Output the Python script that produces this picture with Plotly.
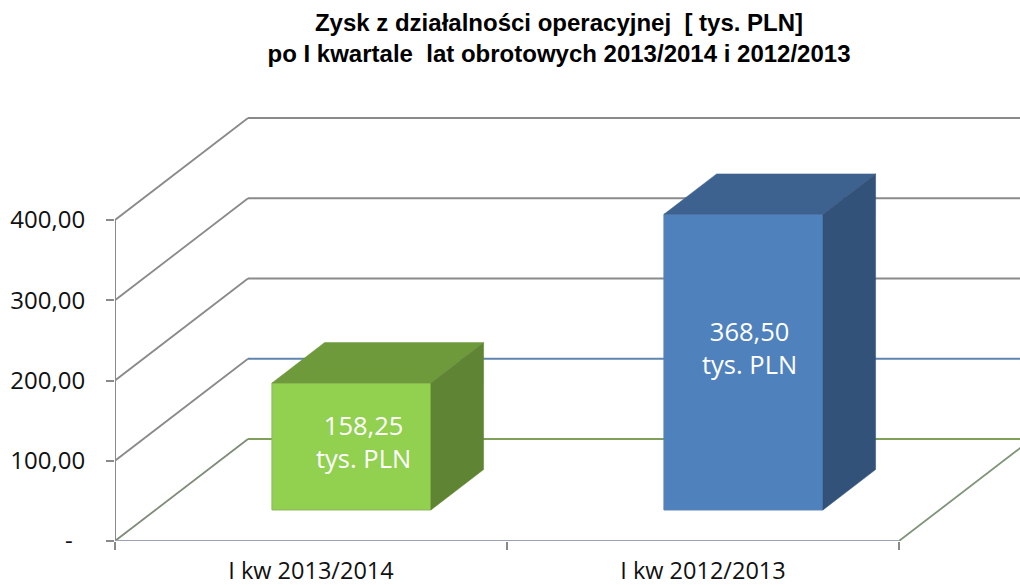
import plotly.graph_objects as go

# --- data ---
categories = ["I kw 2013/2014", "I kw 2012/2013"]
values = [158.25, 368.50]
value_labels = ["158,25<br>tys. PLN", "368,50<br>tys. PLN"]
y_ticks = [0, 100, 200, 300, 400]
y_tick_labels = ["-\u00a0\u00a0", "100,00", "200,00", "300,00", "400,00"]
title_text = "<b>Zysk z działalności operacyjnej  [ tys. PLN]<br>po I kwartale  lat obrotowych 2013/2014 i 2012/2013</b>"

# --- styles ---
front_colors = ["#92D050", "#4F81BD"]
top_colors = ["#6F9A3C", "#3D628F"]
side_colors = ["#5F8433", "#325279"]
edge_colors = ["#8DB85A", "#5B84B8"]
back_wall_colors = {0: "#7F9F5A", 100: "#5F84B0"}
label_shift = [(12, 5), (6, 15)]
TICK_FONT = "Open Sans"
GRID = "#8A8A8A"

# --- pseudo 3D geometry (page size and axis scale) ---
W, H = 1020, 585
L, BOTTOM_PX = 115, 541
CAT_PX = 392.0
VAL_PX = 0.8025
WALL_DX = 133 / CAT_PX          # depth of the floor in x-axis units
WALL_DY = 102 / VAL_PX          # depth of the floor in y-axis units
BAR_D0, BAR_D1 = 0.304, 0.70    # front and back of the bars as share of the depth
BAR_W = 159 / CAT_PX
X_MAX = (W - L) / CAT_PX
Y_MAX = BOTTOM_PX / VAL_PX


def project(x, v, d):
    return x + WALL_DX * d, v + WALL_DY * d


centers = [i + 0.5 for i in range(len(categories))]
fig = go.Figure()

# Front faces are real bars
fx = [project(c, 0, BAR_D0)[0] for c in centers]
base = project(0, 0, BAR_D0)[1]
fig.add_trace(go.Bar(
    x=fx, y=values, base=[base] * len(values), width=BAR_W,
    marker=dict(color=front_colors, line=dict(color=edge_colors, width=1)),
    hoverinfo="skip", showlegend=False,
))

# Top and side faces follow from each value
for c, v, tc, sc in zip(centers, values, top_colors, side_colors):
    x0, x1 = c - BAR_W / 2, c + BAR_W / 2
    p = [project(x0, v, BAR_D0), project(x1, v, BAR_D0), project(x1, v, BAR_D1), project(x0, v, BAR_D1)]
    fig.add_trace(go.Scatter(
        x=[q[0] for q in p] + [p[0][0]], y=[q[1] for q in p] + [p[0][1]],
        mode="lines", fill="toself", fillcolor=tc, line=dict(color=tc, width=0.5),
        hoverinfo="skip", showlegend=False,
    ))
    s = [project(x1, 0, BAR_D0), project(x1, v, BAR_D0), project(x1, v, BAR_D1), project(x1, 0, BAR_D1)]
    fig.add_trace(go.Scatter(
        x=[q[0] for q in s] + [s[0][0]], y=[q[1] for q in s] + [s[0][1]],
        mode="lines", fill="toself", fillcolor=sc, line=dict(color=sc, width=0.5),
        hoverinfo="skip", showlegend=False,
    ))

# Axis lines
fig.add_trace(go.Scatter(
    x=[0, 0], y=[y_ticks[0], y_ticks[-1]], mode="lines", cliponaxis=False,
    line=dict(color=GRID, width=2), hoverinfo="skip", showlegend=False,
))
fig.add_trace(go.Scatter(
    x=[0, len(categories)], y=[0, 0], mode="lines", cliponaxis=False,
    line=dict(color="#9AA3B5", width=2), hoverinfo="skip", showlegend=False,
))

# Walls of the box: below the bars
shapes = []
for t in y_ticks:
    bx, by = project(0, t, 1)
    shapes.append(dict(type="line", layer="below", xref="x", yref="y", x0=0, y0=t, x1=bx, y1=by,
                       line=dict(color="#7F8C7A" if t == 0 else GRID, width=1.8)))
    shapes.append(dict(type="line", layer="below", xref="x", yref="y", x0=bx, y0=by, x1=X_MAX, y1=by,
                       line=dict(color=back_wall_colors.get(t, GRID), width=2)))
rx, ry = project(len(categories), 0, 1)
shapes.append(dict(type="line", layer="below", xref="x", yref="y", x0=len(categories), y0=0, x1=rx, y1=ry,
                   line=dict(color="#7F9478", width=1.8)))

annotations = []
for x, v, txt, (dx, dy) in zip(fx, values, value_labels, label_shift):
    annotations.append(dict(
        x=x, y=base + v / 2, xref="x", yref="y", text=txt, showarrow=False,
        xshift=dx, yshift=dy, font=dict(family=TICK_FONT, size=25.5, color="white"),
    ))

fig.update_layout(
    width=W, height=H, autosize=False,
    margin=dict(l=L, r=0, t=0, b=H - BOTTOM_PX, pad=0),
    paper_bgcolor="white", plot_bgcolor="white",
    showlegend=False, shapes=shapes, annotations=annotations,
    title=dict(text=title_text, x=559 / W, xanchor="center", y=1 - 31 / H, yanchor="top",
               automargin=False,
               font=dict(family="Liberation Sans", size=24, color="black")),
    xaxis=dict(
        range=[0, X_MAX], showgrid=False, zeroline=False, showline=False, automargin=False,
        tickmode="array", tickvals=centers, ticktext=categories, ticks="",
        ticklabelstandoff=13, tickangle=0,
        tickfont=dict(family=TICK_FONT, size=23.5, color="#111111"),
        minor=dict(tickmode="array", tickvals=list(range(len(categories) + 1)), ticks="outside",
                   ticklen=8, tickwidth=1.5, tickcolor=GRID, showgrid=False),
    ),
    yaxis=dict(
        range=[0, Y_MAX], showgrid=False, zeroline=False, showline=False, automargin=False,
        tickmode="array", tickvals=y_ticks, ticktext=y_tick_labels,
        ticks="outside", ticklen=8, tickwidth=1.5, tickcolor=GRID,
        ticklabelstandoff=16,
        tickfont=dict(family=TICK_FONT, size=24, color="#111111"),
    ),
)

fig.write_html("out.html", config=dict(displayModeBar=False),
               post_script="document.body.style.margin='0';document.body.style.overflow='hidden';")
